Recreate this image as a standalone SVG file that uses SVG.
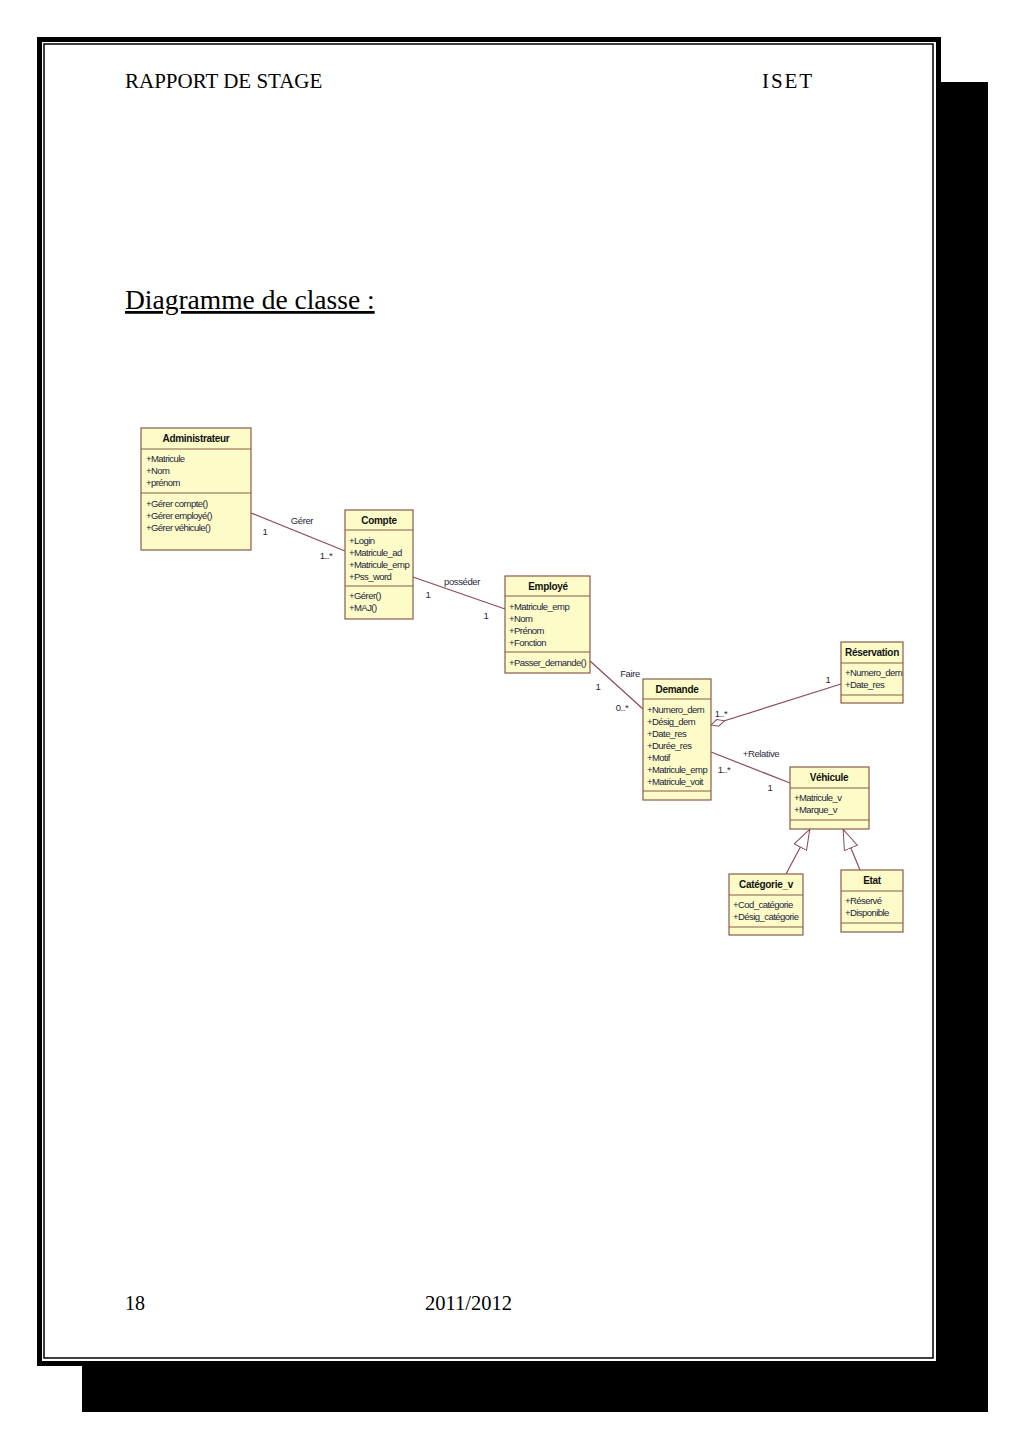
<svg xmlns="http://www.w3.org/2000/svg" width="1024" height="1450" viewBox="0 0 1024 1450">
<style>
.page{font-family:"Liberation Serif","Times New Roman",serif;fill:#000}
.box{fill:#fdfcc8;stroke:#8a5a4a;stroke-width:1.2}
.sep{stroke:#8a5a4a;stroke-width:1.2}
.t{font-family:"Liberation Sans",Arial,sans-serif;font-size:10px;font-weight:bold;fill:#111;text-anchor:middle;letter-spacing:-0.3px}
.a{font-family:"Liberation Sans",Arial,sans-serif;font-size:9.5px;fill:#1c1c40;letter-spacing:-0.55px}
.lbl{font-family:"Liberation Sans",Arial,sans-serif;font-size:9.5px;fill:#2a2a3a;letter-spacing:-0.4px}
.conn{stroke:#8b4c55;stroke-width:1.2;fill:none}
</style>
<defs>
<marker id="gen" viewBox="0 0 21 15" refX="21" refY="7.5" markerWidth="21" markerHeight="15" markerUnits="userSpaceOnUse" orient="auto">
<path d="M0.5,0.5 L20.5,7.5 L0.5,14.5 Z" fill="#fff" stroke="#8b4c55" stroke-width="1"/>
</marker>
<marker id="agg" viewBox="0 0 15 8" refX="14.5" refY="4" markerWidth="15" markerHeight="8" markerUnits="userSpaceOnUse" orient="auto">
<path d="M0.5,4 L7.5,0.5 L14.5,4 L7.5,7.5 Z" fill="#fff" stroke="#8b4c55" stroke-width="1"/>
</marker>
</defs>
<rect x="0" y="0" width="1024" height="1450" fill="#fff"/>
<g id="page-frame">
<rect x="82" y="82" width="906" height="1330" fill="#000"/>
<rect x="39.5" y="39.5" width="899" height="1324" fill="#fff" stroke="#000" stroke-width="5"/>
<rect x="44" y="44" width="889" height="1314" fill="none" stroke="#000" stroke-width="1.5"/>
</g>
<g id="page-text" class="page">
<text x="125" y="88" font-size="21">RAPPORT DE STAGE</text>
<text x="762" y="88" font-size="21" textLength="50" lengthAdjust="spacing">ISET</text>
<text x="125" y="309" font-size="27.5" text-decoration="underline">Diagramme de classe :</text>
<text x="125" y="1310" font-size="20">18</text>
<text x="425" y="1310" font-size="20.5">2011/2012</text>
</g>
<g id="connectors">
<line class="conn" x1="251" y1="513" x2="345" y2="551"/>
<line class="conn" x1="413" y1="577" x2="505" y2="609"/>
<line class="conn" x1="590" y1="661" x2="643" y2="709"/>
<line class="conn" x1="841" y1="684" x2="711" y2="725" marker-end="url(#agg)"/>
<line class="conn" x1="711" y1="752" x2="790" y2="783"/>
<line class="conn" x1="786" y1="874" x2="810" y2="829" marker-end="url(#gen)"/>
<line class="conn" x1="860" y1="870" x2="843" y2="829" marker-end="url(#gen)"/>
<text class="lbl" x="302" y="524" text-anchor="middle">Gérer</text>
<text class="lbl" x="265" y="535" text-anchor="middle">1</text>
<text class="lbl" x="326" y="559" text-anchor="middle">1..*</text>
<text class="lbl" x="462" y="585" text-anchor="middle">posséder</text>
<text class="lbl" x="428" y="598" text-anchor="middle">1</text>
<text class="lbl" x="486" y="619" text-anchor="middle">1</text>
<text class="lbl" x="630" y="677" text-anchor="middle">Faire</text>
<text class="lbl" x="598" y="690" text-anchor="middle">1</text>
<text class="lbl" x="622" y="711" text-anchor="middle">0..*</text>
<text class="lbl" x="721" y="717" text-anchor="middle">1..*</text>
<text class="lbl" x="828" y="683" text-anchor="middle">1</text>
<text class="lbl" x="761" y="757" text-anchor="middle">+Relative</text>
<text class="lbl" x="724" y="773" text-anchor="middle">1..*</text>
<text class="lbl" x="770" y="791" text-anchor="middle">1</text>
</g>
<g id="administrateur">
<rect class="box" x="141" y="428" width="110" height="122"/>
<line class="sep" x1="141" y1="449" x2="251" y2="449"/>
<line class="sep" x1="141" y1="493" x2="251" y2="493"/>
<text class="t" x="196" y="442">Administrateur</text>
<text class="a" x="146" y="462">+Matricule</text>
<text class="a" x="146" y="474">+Nom</text>
<text class="a" x="146" y="486">+prénom</text>
<text class="a" x="146" y="507">+Gérer compte()</text>
<text class="a" x="146" y="519">+Gérer employé()</text>
<text class="a" x="146" y="531">+Gérer véhicule()</text>
</g>
<g id="compte">
<rect class="box" x="345" y="510" width="68" height="109"/>
<line class="sep" x1="345" y1="530" x2="413" y2="530"/>
<line class="sep" x1="345" y1="586" x2="413" y2="586"/>
<text class="t" x="379" y="524">Compte</text>
<text class="a" x="349" y="544">+Login</text>
<text class="a" x="349" y="556">+Matricule_ad</text>
<text class="a" x="349" y="568">+Matricule_emp</text>
<text class="a" x="349" y="580">+Pss_word</text>
<text class="a" x="349" y="599">+Gérer()</text>
<text class="a" x="349" y="611">+MAJ()</text>
</g>
<g id="employe">
<rect class="box" x="505" y="576" width="85" height="97"/>
<line class="sep" x1="505" y1="596" x2="590" y2="596"/>
<line class="sep" x1="505" y1="652" x2="590" y2="652"/>
<text class="t" x="548" y="590">Employé</text>
<text class="a" x="509" y="610">+Matricule_emp</text>
<text class="a" x="509" y="622">+Nom</text>
<text class="a" x="509" y="634">+Prénom</text>
<text class="a" x="509" y="646">+Fonction</text>
<text class="a" x="509" y="666">+Passer_demande()</text>
</g>
<g id="demande">
<rect class="box" x="643" y="679" width="68" height="121"/>
<line class="sep" x1="643" y1="699" x2="711" y2="699"/>
<line class="sep" x1="643" y1="791" x2="711" y2="791"/>
<text class="t" x="677" y="693">Demande</text>
<text class="a" x="647" y="713">+Numero_dem</text>
<text class="a" x="647" y="725">+Désig_dem</text>
<text class="a" x="647" y="737">+Date_res</text>
<text class="a" x="647" y="749">+Durée_res</text>
<text class="a" x="647" y="761">+Motif</text>
<text class="a" x="647" y="773">+Matricule_emp</text>
<text class="a" x="647" y="785">+Matricule_voit</text>
</g>
<g id="reservation">
<rect class="box" x="841" y="642" width="62" height="61"/>
<line class="sep" x1="841" y1="663" x2="903" y2="663"/>
<line class="sep" x1="841" y1="695" x2="903" y2="695"/>
<text class="t" x="872" y="656">Réservation</text>
<text class="a" x="845" y="676">+Numero_dem</text>
<text class="a" x="845" y="688">+Date_res</text>
</g>
<g id="vehicule">
<rect class="box" x="790" y="767" width="79" height="62"/>
<line class="sep" x1="790" y1="788" x2="869" y2="788"/>
<line class="sep" x1="790" y1="820" x2="869" y2="820"/>
<text class="t" x="829" y="781">Véhicule</text>
<text class="a" x="794" y="801">+Matricule_v</text>
<text class="a" x="794" y="813">+Marque_v</text>
</g>
<g id="categorie_v">
<rect class="box" x="729" y="874" width="74" height="61"/>
<line class="sep" x1="729" y1="895" x2="803" y2="895"/>
<line class="sep" x1="729" y1="927" x2="803" y2="927"/>
<text class="t" x="766" y="888">Catégorie_v</text>
<text class="a" x="733" y="908">+Cod_catégorie</text>
<text class="a" x="733" y="920">+Désig_catégorie</text>
</g>
<g id="etat">
<rect class="box" x="841" y="870" width="62" height="62"/>
<line class="sep" x1="841" y1="891" x2="903" y2="891"/>
<line class="sep" x1="841" y1="923" x2="903" y2="923"/>
<text class="t" x="872" y="884">Etat</text>
<text class="a" x="845" y="904">+Réservé</text>
<text class="a" x="845" y="916">+Disponible</text>
</g>
</svg>
